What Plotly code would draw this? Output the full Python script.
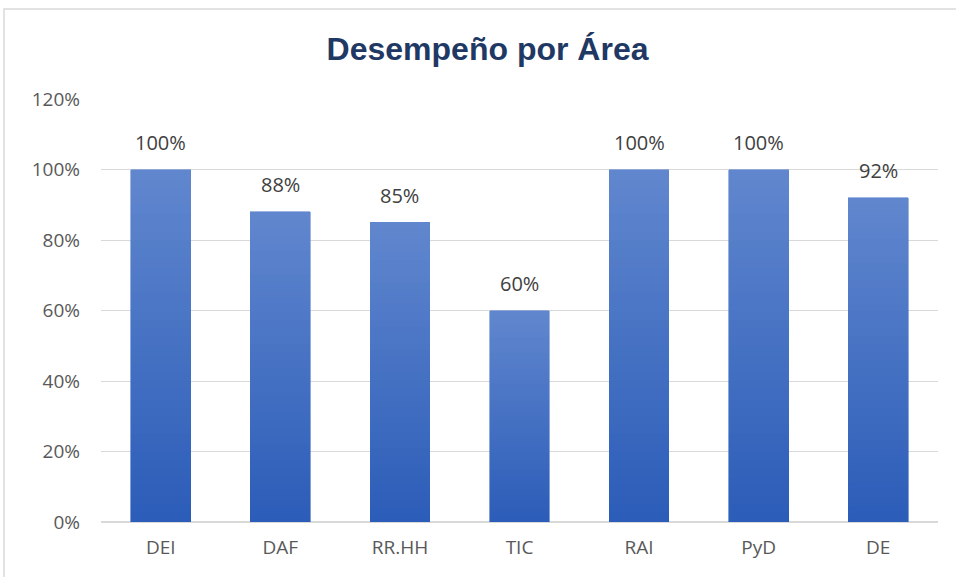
import plotly.graph_objects as go

# Data
areas = ["DEI", "DAF", "RR.HH", "TIC", "RAI", "PyD", "DE"]
desempeno = [1.00, 0.88, 0.85, 0.60, 1.00, 1.00, 0.92]
y_ticks = [0, 0.2, 0.4, 0.6, 0.8, 1.0, 1.2]
y_tick_labels = ["0%", "20%", "40%", "60%", "80%", "100%", "120%"]

# gradient: stack thin slices, dark at the base, lighter at the top
n_slices = 40
dark = (44, 93, 184)
light = (96, 134, 206)


def mix(t):
    r, g, b = (round(dark[i] + (light[i] - dark[i]) * t) for i in range(3))
    return f"rgb({r},{g},{b})"


fig = go.Figure()
for k in range(n_slices):
    col = mix(k / (n_slices - 1))
    fig.add_trace(go.Bar(
        x=areas,
        y=[v / n_slices for v in desempeno],
        marker=dict(color=col, line=dict(color=col, width=0.6)),
        showlegend=False,
        hoverinfo="skip",
    ))

# value labels above the bars
for a, v in zip(areas, desempeno):
    fig.add_annotation(
        x=a, y=v, text=f"{v:.0%}", showarrow=False,
        yshift=27, font=dict(family="Open Sans", size=20, color="#404040"),
    )

fig.update_layout(
    barmode="stack",
    bargap=0.5,
    width=956,
    height=577,
    paper_bgcolor="white",
    plot_bgcolor="white",
    margin=dict(l=101, r=18, t=99, b=55),
    title=dict(
        text="<b>Desempeño por Área</b>",
        x=0.51, xanchor="center", y=0.915, yanchor="middle",
        font=dict(family="Liberation Sans, Arial", size=32, color="#1F3864"),
    ),
    xaxis=dict(
        showgrid=False, showline=False, ticks="",
        tickfont=dict(family="Open Sans", size=19, color="#595959"),
        ticklabelstandoff=12,
    ),
    yaxis=dict(
        range=[0, 1.2], tickvals=y_ticks, ticktext=y_tick_labels,
        showgrid=True, gridcolor="#D9D9D9", gridwidth=1.3,
        zeroline=True, zerolinecolor="#D9D9D9", zerolinewidth=1.5,
        tickfont=dict(family="Open Sans", size=19, color="#595959"),
        ticklabelstandoff=20,
    ),
    shapes=[
        # chart frame
        dict(type="rect", xref="paper", yref="paper", xsizemode="pixel",
             ysizemode="pixel", xanchor=0, yanchor=1, x0=-97, x1=900,
             y0=90, y1=-600, line=dict(color="#D9D9D9", width=1.5),
             fillcolor="rgba(0,0,0,0)", layer="below"),
    ],
)

fig.write_html("out.html", config={"displayModeBar": False},
               post_script="document.body.style.margin='0';")
